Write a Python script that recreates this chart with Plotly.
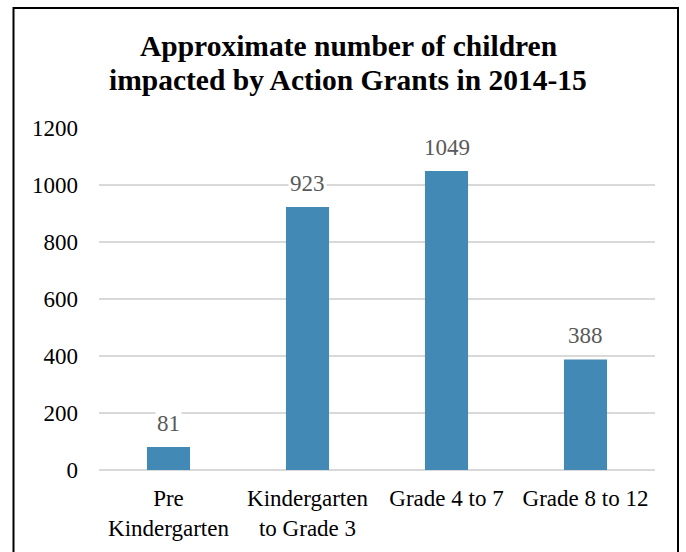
import plotly.graph_objects as go

categories = ["Pre<br>Kindergarten", "Kindergarten<br>to Grade 3", "Grade 4 to 7", "Grade 8 to 12"]
children = [81, 923, 1049, 388]
y_ticks = [0, 200, 400, 600, 800, 1000, 1200]
title_lines = ["Approximate number of children", "impacted by Action Grants in 2014-15"]

BAR_COLOR = "#428AB5"
SERIF = "Liberation Serif, Times New Roman, serif"

# Plot area in pixels (used to place the frame and title lines)
W, H = 686, 552
L, R, T, B = 99, 31, 128, 82
PW, PH = W - L - R, H - T - B


def px_to_paper_y(py):
    return (H - B - py) / PH


def px_to_paper_x(px):
    return (px - L) / PW


fig = go.Figure(
    go.Bar(
        x=categories,
        y=children,
        marker=dict(color=BAR_COLOR, line=dict(width=0)),
        hoverinfo="skip",
    )
)

# Value labels on a white background so they break the gridlines
for cat, val in zip(categories, children):
    fig.add_annotation(
        x=cat, y=val, text=str(val), showarrow=False,
        yanchor="bottom", yshift=9,
        font=dict(family=SERIF, size=23, color="#595959"),
        bgcolor="white", borderpad=1,
    )

# Two-line bold title, set line by line for tighter leading
for line, py in zip(title_lines, [46, 80]):
    fig.add_annotation(
        xref="paper", yref="paper", x=px_to_paper_x(348), y=px_to_paper_y(py),
        text=f"<b>{line}</b>", showarrow=False, xanchor="center", yanchor="middle",
        font=dict(family=SERIF, size=29.5, color="black"),
    )

fig.update_layout(
    width=W, height=H,
    margin=dict(l=L, r=R, t=T, b=B),
    paper_bgcolor="white", plot_bgcolor="white",
    bargap=0.69,
    showlegend=False,
    font=dict(family=SERIF, size=23, color="black"),
    xaxis=dict(showgrid=False, showline=False, ticks="", tickfont=dict(size=23),
               ticklabelstandoff=12),
    yaxis=dict(
        range=[0, 1200], tickvals=y_ticks, showgrid=True, gridcolor="#D9D9D9", gridwidth=1.5,
        zeroline=True, zerolinecolor="#D9D9D9", zerolinewidth=1.5,
        showline=False, ticks="", ticklen=0, tickfont=dict(size=23), automargin=False,
        ticklabelstandoff=20,
    ),
)

# Outer frame around the chart
fig.add_shape(
    type="rect", xref="paper", yref="paper",
    x0=px_to_paper_x(13.5), x1=px_to_paper_x(678),
    y0=px_to_paper_y(570), y1=px_to_paper_y(8),
    line=dict(color="black", width=2), fillcolor="rgba(0,0,0,0)", layer="above",
)

fig.write_html("out.html")
